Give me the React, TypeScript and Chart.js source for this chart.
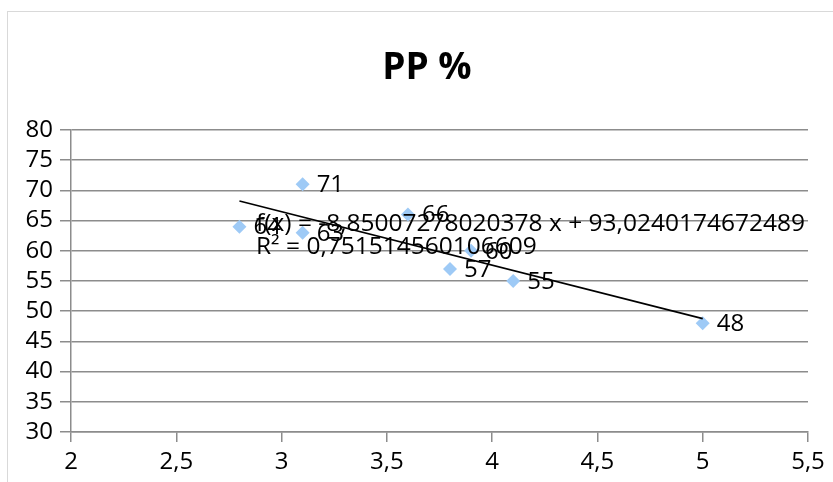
import React, { useEffect, useRef } from "react";
import { Chart, registerables } from "chart.js";

Chart.register(...registerables);

const xValues = [2.8, 3.1, 3.1, 3.6, 3.8, 3.9, 4.1, 5.0];
const yValues = [64, 71, 63, 66, 57, 60, 55, 48];
const titleText = "PP %";
const equationText = "f(x) = -8,85007278020378 x + 93,0240174672489";
const r2Text = "R² = 0,751514560106609";
const xAxisMin = 2;
const xAxisMax = 5.5;
const xAxisStep = 0.5;
const yAxisMin = 30;
const yAxisMax = 80;
const yAxisStep = 5;

const FONT = '"Open Sans", "DejaVu Sans", sans-serif';

function regression(xs: number[], ys: number[]) {
  const n = xs.length;
  const mx = xs.reduce((a, b) => a + b, 0) / n;
  const my = ys.reduce((a, b) => a + b, 0) / n;
  let sxy = 0;
  let sxx = 0;
  for (let i = 0; i < n; i++) {
    sxy += (xs[i] - mx) * (ys[i] - my);
    sxx += (xs[i] - mx) * (xs[i] - mx);
  }
  const slope = sxy / sxx;
  return { slope, intercept: my - slope * mx };
}

const fmt = (v: number) => String(v).replace(".", ",");

export default function App() {
  const ref = useRef<HTMLCanvasElement | null>(null);

  useEffect(() => {
    if (!ref.current) return;
    const { slope, intercept } = regression(xValues, yValues);
    const xmin = Math.min(...xValues);
    const xmax = Math.max(...xValues);
    const trend = [
      { x: xmin, y: slope * xmin + intercept },
      { x: xmax, y: slope * xmax + intercept },
    ];

    const overlay = {
      id: "overlay",
      afterDatasetsDraw(chart: any) {
        const ctx = chart.ctx;
        ctx.save();
        // title
        ctx.fillStyle = "#000";
        ctx.font = `bold 37px ${FONT}`;
        ctx.textAlign = "center";
        ctx.textBaseline = "alphabetic";
        ctx.fillText(titleText, 427, 79);
        // data labels
        ctx.font = `24px ${FONT}`;
        ctx.textAlign = "left";
        ctx.textBaseline = "middle";
        const meta = chart.getDatasetMeta(1);
        meta.data.forEach((el: any, i: number) => {
          ctx.fillText(String(yValues[i]), el.x + 14, el.y + 1);
        });
        // trendline text
        ctx.font = `24.5px ${FONT}`;
        ctx.fillText(equationText, 256, 224);
        ctx.fillText(r2Text, 256, 247);
        ctx.restore();
      },
    };

    const chart = new Chart(ref.current, {
      type: "scatter",
      data: {
        datasets: [
          {
            label: "trend",
            data: trend,
            showLine: true,
            borderColor: "#000",
            borderWidth: 1.6,
            pointRadius: 0,
            pointHoverRadius: 0,
            order: 0,
          },
          {
            label: "PP %",
            data: xValues.map((x, i) => ({ x, y: yValues[i] })),
            pointStyle: "rectRot",
            pointRadius: 7,
            pointBackgroundColor: "#9ecaf6",
            pointBorderColor: "#9ecaf6",
            pointBorderWidth: 0,
            order: 1,
          },
        ],
      },
      options: {
        animation: false,
        responsive: false,
        devicePixelRatio: 1,
        layout: { padding: { top: 130, right: 25, left: 0, bottom: 0 } },
        plugins: {
          legend: { display: false },
          title: { display: false },
          tooltip: { enabled: false },
        },
        scales: {
          x: {
            type: "linear",
            min: xAxisMin,
            max: xAxisMax,
            ticks: {
              stepSize: xAxisStep,
              autoSkip: false,
              maxRotation: 0,
              color: "#000",
              font: { family: FONT, size: 24 },
              padding: 6,
              callback: (v: any) => fmt(Number(v)),
            },
            grid: {
              drawOnChartArea: false,
              drawTicks: true,
              tickLength: 10,
              color: "#8c8c8c",
              lineWidth: 1.5,
            },
            border: { display: true, color: "#8c8c8c", width: 1.5 },
            afterFit: (s: any) => {
              s.height = 50;
            },
          },
          y: {
            type: "linear",
            min: yAxisMin,
            max: yAxisMax,
            ticks: {
              stepSize: yAxisStep,
              autoSkip: false,
              color: "#000",
              font: { family: FONT, size: 24 },
              padding: 7,
              callback: (v: any) => fmt(Number(v)),
            },
            grid: {
              drawOnChartArea: true,
              drawTicks: true,
              tickLength: 11,
              color: "#8c8c8c",
              lineWidth: 1.5,
            },
            border: { display: true, color: "#8c8c8c", width: 1.5 },
            afterFit: (s: any) => {
              s.width = 71;
            },
          },
        },
      },
      plugins: [overlay],
    });
    return () => chart.destroy();
  }, []);

  return (
    <div
      style={{
        position: "fixed",
        left: 0,
        top: 0,
        width: 833,
        height: 482,
        overflow: "hidden",
        background: "#fff",
      }}
    >
      <div
        style={{
          position: "absolute",
          left: 7,
          top: 11,
          width: 900,
          height: 600,
          border: "1.5px solid #d9d9d9",
        }}
      />
      <canvas
        ref={ref}
        width={833}
        height={482}
        style={{ position: "absolute", left: 0, top: 0, width: 833, height: 482 }}
      />
    </div>
  );
}
